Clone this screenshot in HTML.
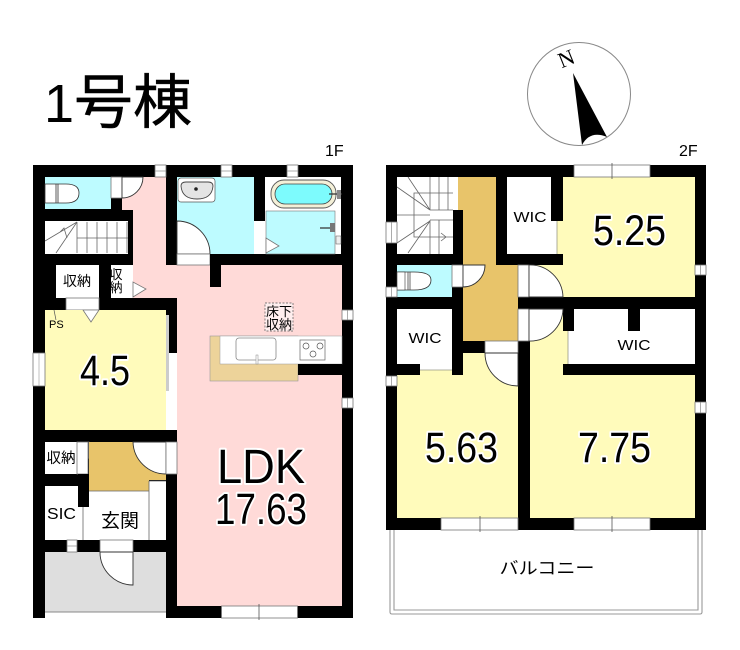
<!DOCTYPE html>
<html lang="ja"><head><meta charset="utf-8"><title>1号棟</title>
<style>html,body{margin:0;padding:0;background:#fff}svg{display:block}
text{font-family:"Liberation Sans","Noto Sans CJK JP",sans-serif;fill:#000}
.h{stroke:#fff;stroke-width:4;paint-order:stroke;stroke-linejoin:round}
.l{stroke:#666;stroke-width:.8;fill:none}
.w{fill:#fff;stroke:#777;stroke-width:.8}
.d{fill:#fff;stroke:#333;stroke-width:.9}
</style></head><body>
<svg width="740" height="650" viewBox="0 0 740 650" xmlns="http://www.w3.org/2000/svg">
<rect width="740" height="650" fill="#fff"/>
<text x="44" y="122" font-size="54">1</text>
<text x="74" y="123" font-size="59" textLength="118" lengthAdjust="spacingAndGlyphs" font-family="Noto Sans CJK JP" stroke="#000" stroke-width=".5">号棟</text>
<text x="325" y="156" font-size="16">1F</text>
<text x="679" y="156" font-size="16">2F</text>

<!-- compass -->
<circle cx="579" cy="94" r="51.5" fill="#fff" stroke="#888" stroke-width="1"/>
<path d="M573 73 L607 137 Q590 130 582 145 Z" fill="#000"/>
<text transform="translate(570,65) rotate(-22)" x="-9" y="0" font-size="22" style="font-family:'Liberation Serif',serif">N</text>

<!-- 1F black base -->
<rect x="33" y="165" width="320" height="453" fill="#000"/>
<rect x="33" y="552" width="133" height="66" fill="#000"/>
<rect x="45" y="612" width="121" height="6" fill="#fff"/>
<rect x="45" y="552" width="121" height="60" fill="#dedede"/>
<line x1="45" y1="612" x2="166" y2="612" stroke="#888"/>

<!-- 1F pink -->
<path d="M122 177H166V265H177V298H133V210H122Z" fill="#ffdad8"/>
<rect x="177" y="265" width="165" height="341" fill="#ffdad8"/>
<rect x="166" y="265" width="11" height="33" fill="#ffdad8"/>
<rect x="133" y="221" width="33" height="77" fill="#ffdad8"/>
<rect x="122" y="177" width="44" height="33" fill="#ffdad8"/>

<!-- toilet 1F -->
<rect x="45" y="177" width="66" height="32" fill="#bdfbff"/>
<rect x="111" y="177" width="11" height="21" class="w" stroke="none"/>
<path d="M122 177H143A21 21 0 0 1 122 198Z" class="d"/>
<path d="M45 184H66Q79 184 79 193Q79 203 66 203H45Z" fill="#fff" stroke="#333" stroke-width=".8"/>
<path d="M56 184V203M58 184V203" stroke="#333" stroke-width=".8"/>

<!-- stairs 1F -->
<rect x="45" y="221" width="83" height="33" fill="#fff"/>
<path class="l" d="M77 222V253M87 222V253M97 222V253M107 222V253M117 222V253M127 222V253M77 238H128M45 241L77 222M56 253L77 222M60 232L64 228L67 238"/>

<!-- storages 1F -->
<rect x="56" y="265" width="43" height="33" fill="#fff"/>
<rect x="111" y="265" width="22" height="33" fill="#fff"/>
<path d="M133 282V297L146 289Z" class="w"/>
<rect x="66" y="298" width="33" height="12" class="w"/>
<text x="77" y="286" font-size="14" text-anchor="middle">収納</text>
<text x="116" y="279" font-size="13" text-anchor="middle">収</text>
<text x="116" y="292" font-size="13" text-anchor="middle">納</text>

<!-- 4.5 room -->
<rect x="45" y="310" width="121" height="120" fill="#fffbbb"/>
<rect x="166" y="353" width="11" height="77" fill="#fff"/>
<rect x="166" y="315" width="3" height="76" fill="#ccc"/>
<path d="M83 310L91 322L99 310Z" class="w"/>
<line x1="54" y1="310" x2="56" y2="320" stroke="#555" stroke-width=".7"/>
<text x="49" y="328" font-size="11">PS</text>
<rect x="33" y="353" width="12" height="33" class="w"/>
<line x1="39" y1="353" x2="39" y2="386" stroke="#999" stroke-width=".6"/>
<text class="h" x="80" y="385" font-size="43" textLength="50" lengthAdjust="spacingAndGlyphs">4.5</text>

<!-- genkan -->
<rect x="45" y="442" width="32" height="32" fill="#fff"/>
<rect x="77" y="442" width="11" height="32" class="w"/>
<path d="M89 442L102 450L89 458Z" class="w"/>
<text x="61" y="463" font-size="14.5" text-anchor="middle">収納</text>
<path d="M89 442H133V491H89Z" fill="#e8c46a"/>
<path d="M133 442H166V480H149V491H133Z" fill="#e8c46a"/>
<path d="M133 442H166V474A33 33 0 0 1 133 442Z" fill="#fff" stroke="#333" stroke-width=".9"/>
<rect x="166" y="442" width="11" height="32" class="w"/>
<rect x="45" y="486" width="38" height="54" fill="#fff"/>
<rect x="78" y="474" width="11" height="33" fill="#000"/>
<rect x="89" y="491" width="60" height="49" fill="#fff"/>
<rect x="83" y="507" width="6" height="33" fill="#fff"/>
<rect x="149" y="481" width="17" height="59" fill="#fff"/>
<path class="l" d="M83 507V540M89 491H149M149 481V540M149 481H166"/>
<text x="47" y="519" font-size="15.5" textLength="29" lengthAdjust="spacingAndGlyphs">SIC</text>
<text x="120" y="527" font-size="19" text-anchor="middle">玄関</text>
<rect x="67" y="540" width="10" height="12" class="w"/>
<line x1="67" y1="546" x2="77" y2="546" stroke="#888" stroke-width=".7"/>
<rect x="100" y="540" width="33" height="12" class="w"/>
<path d="M100 552H133V585A33 33 0 0 1 100 552Z" class="d"/>

<!-- washroom -->
<rect x="177" y="177" width="77" height="77" fill="#bdfbff"/>
<path d="M177 221A33 33 0 0 1 210 254H177Z" class="d"/>
<rect x="177" y="254" width="33" height="11" class="w"/>
<rect x="178" y="178" width="37" height="24" rx="3" fill="#fff" stroke="#555" stroke-width=".7"/>
<path d="M181 186Q181 182 186 182H208Q213 182 213 186Q212 199 197 199Q182 199 181 186Z" fill="#e4e4e4" stroke="#444" stroke-width=".9"/>
<circle cx="196" cy="189" r="1.8" fill="#222"/>

<!-- bath -->
<rect x="265" y="177" width="76" height="77" fill="#fff"/>
<rect x="266" y="211" width="69" height="43" fill="#bdfbff" stroke="#777" stroke-width=".6"/>
<rect x="254" y="221" width="11" height="33" fill="#fff"/>
<path d="M266 238L279 246L266 253Z" class="w"/>
<rect x="271" y="180" width="65" height="28" rx="13" fill="#f4f0d8" stroke="#555" stroke-width=".9"/>
<rect x="275" y="184" width="57" height="20" rx="10" fill="#7dfbfd" stroke="#444" stroke-width=".8"/>
<path d="M329 194H342M320 228H334" stroke="#333" stroke-width="1.2"/>
<rect x="330" y="223" width="5" height="9" fill="#777"/>
<rect x="337" y="190" width="4" height="9" fill="#888"/>
<rect x="336" y="236" width="5" height="8" fill="#eee" stroke="#555" stroke-width=".5"/>

<rect x="210" y="254" width="11" height="33" fill="#000"/>

<!-- kitchen -->
<rect x="210" y="336" width="88" height="45" fill="#edd39a" stroke="#999" stroke-width=".6"/>
<rect x="220" y="336" width="122" height="28" fill="#fff" stroke="#999" stroke-width=".5"/>
<rect x="298" y="364" width="44" height="11" fill="#000"/>
<rect x="236" y="338" width="40" height="22" rx="3" fill="#fff" stroke="#888" stroke-width=".8"/>
<rect x="256" y="355" width="2" height="9" fill="#fff" stroke="#888" stroke-width=".5"/>
<rect x="300" y="340" width="25" height="20" fill="#fff" stroke="#666" stroke-width=".7"/>
<circle cx="306" cy="346" r="3" fill="#fff" stroke="#555" stroke-width=".7"/>
<circle cx="320" cy="346" r="3" fill="#fff" stroke="#555" stroke-width=".7"/>
<circle cx="313" cy="354" r="3" fill="#fff" stroke="#555" stroke-width=".7"/>
<rect x="265" y="303" width="28" height="28" fill="#ffeeee" stroke="#555" stroke-width=".7" stroke-dasharray="2 1.5"/>
<text x="279" y="316" font-size="13" text-anchor="middle">床下</text>
<text x="279" y="329" font-size="13" text-anchor="middle">収納</text>

<!-- LDK text -->
<text class="h" x="217" y="483" font-size="48" textLength="88" lengthAdjust="spacingAndGlyphs">LDK</text>
<text class="h" x="215" y="524" font-size="44" textLength="92" lengthAdjust="spacingAndGlyphs">17.63</text>

<!-- windows 1F -->
<rect x="155" y="165" width="11" height="12" class="w"/><line x1="155" y1="171" x2="166" y2="171" stroke="#888" stroke-width=".7"/>
<rect x="221" y="165" width="11" height="12" class="w"/><line x1="221" y1="171" x2="232" y2="171" stroke="#888" stroke-width=".7"/>
<rect x="287" y="165" width="11" height="12" class="w"/><line x1="287" y1="171" x2="298" y2="171" stroke="#888" stroke-width=".7"/>
<rect x="342" y="310" width="11" height="10" class="w"/><line x1="347.500" y1="310" x2="347.500" y2="320" stroke="#888" stroke-width=".7"/>
<rect x="342" y="398" width="11" height="10" class="w"/><line x1="347.500" y1="398" x2="347.500" y2="408" stroke="#888" stroke-width=".7"/>
<rect x="221.500" y="606" width="76" height="12" class="w"/>
<line x1="259" y1="604" x2="259" y2="620" stroke="#555" stroke-width=".8"/>

<!-- 2F balcony -->
<path d="M390 530V612Q390 614 392 614H700Q702 614 702 612V530" fill="none" stroke="#999" stroke-width="1.1"/>
<path d="M394 530V610H698V530" fill="none" stroke="#999" stroke-width="1.1"/>
<text x="547" y="574" font-size="17" text-anchor="middle" textLength="95" lengthAdjust="spacingAndGlyphs" font-family="Noto Sans CJK JP">バルコニー</text>

<!-- 2F base -->
<rect x="386" y="165" width="320" height="365" fill="#000"/>
<rect x="397" y="177" width="56" height="77" fill="#fff"/>
<rect x="453" y="177" width="5" height="33" fill="#fff"/>
<!-- stairs 2F -->
<path class="l" d="M430 177V210M439 177V210M448 177V210M430 220V254M439 220V254M453 193H414V237H453M430 210H453M430 220H453M397 215H430M397 243L430 221M408 253L430 221M397 187L430 210M408 177L430 210M433 237H446M441 233L446 237L441 241"/>
<!-- orange -->
<path d="M458 177H496V265H518V341H463V210H458Z" fill="#e8c46a"/>
<rect x="463" y="265" width="33" height="76" fill="#e8c46a"/>
<!-- WIC 1 -->
<rect x="507" y="177" width="44" height="77" fill="#fff"/>
<rect x="551" y="221" width="6" height="33" fill="#fff"/>
<text x="530" y="222" font-size="15" text-anchor="middle" textLength="33" lengthAdjust="spacingAndGlyphs">WIC</text>
<!-- 5.25 room -->
<rect x="563" y="177" width="132" height="120" fill="#fffbbb"/>
<rect x="557" y="221" width="6" height="33" fill="#fffbbb"/>
<line x1="557" y1="221" x2="557" y2="254" stroke="#998" stroke-width=".8"/>
<rect x="529" y="265" width="166" height="32" fill="#fffbbb"/>
<text class="h" x="593" y="245" font-size="43" textLength="73" lengthAdjust="spacingAndGlyphs">5.25</text>
<!-- toilet 2F -->
<rect x="397" y="265" width="55" height="32" fill="#bdfbff"/>
<path d="M397 272H414Q431 272 431 280Q431 290 414 290H397Z" fill="#fff" stroke="#333" stroke-width=".8"/>
<rect x="397" y="272" width="8" height="18" fill="#fff" stroke="#333" stroke-width=".6"/>
<path d="M408 272V290M410 272V290" stroke="#444" stroke-width=".8"/>
<rect x="452" y="265" width="11" height="22" class="w"/>
<path d="M463 265H485A22 22 0 0 1 463 287Z" class="d"/>
<!-- 5.63 room -->
<rect x="397" y="370" width="121" height="148" fill="#fffbbb"/>
<rect x="463" y="353" width="55" height="20" fill="#fffbbb"/>
<!-- WIC 2 -->
<rect x="397" y="309" width="55" height="61" fill="#fff"/>
<rect x="397" y="364" width="23" height="11" fill="#000"/>
<line x1="420" y1="370" x2="452" y2="370" stroke="#998" stroke-width=".8"/>
<rect x="452" y="309" width="11" height="66" fill="#000"/>
<text x="425" y="343" font-size="15" text-anchor="middle" textLength="33" lengthAdjust="spacingAndGlyphs">WIC</text>
<rect x="485" y="341" width="33" height="12" class="w"/>
<path d="M485 353H518V386A33 33 0 0 1 485 353Z" class="d"/>
<text class="h" x="425" y="462" font-size="43" textLength="73" lengthAdjust="spacingAndGlyphs">5.63</text>
<!-- 7.75 room -->
<rect x="530" y="309" width="165" height="209" fill="#fffbbb"/>
<rect x="568" y="309" width="127" height="55" fill="#fff"/>
<line x1="568" y1="331" x2="568" y2="364" stroke="#998" stroke-width=".8"/>
<rect x="563" y="309" width="11" height="22" fill="#000"/>
<rect x="628" y="309" width="12" height="22" fill="#000"/>
<rect x="563" y="364" width="132" height="11" fill="#000"/>
<text x="634" y="350" font-size="15" text-anchor="middle" textLength="33" lengthAdjust="spacingAndGlyphs">WIC</text>
<text class="h" x="578" y="462" font-size="43" textLength="73" lengthAdjust="spacingAndGlyphs">7.75</text>
<!-- double doors -->
<rect x="518" y="265" width="11" height="32" class="w"/>
<path d="M529 265A33 33 0 0 1 563 297H529Z" class="d"/>
<rect x="518" y="309" width="11" height="32" class="w"/>
<path d="M529 309H563A33 33 0 0 1 529 341Z" class="d"/>
<!-- windows 2F -->
<rect x="574" y="165" width="76" height="12" class="w"/><line x1="612" y1="163" x2="612" y2="179" stroke="#555" stroke-width=".8"/>
<rect x="695" y="265" width="11" height="10" class="w"/><line x1="700.500" y1="265" x2="700.500" y2="275" stroke="#888" stroke-width=".7"/>
<rect x="695" y="402" width="11" height="11" class="w"/><line x1="700.500" y1="402" x2="700.500" y2="413" stroke="#888" stroke-width=".7"/>
<rect x="386" y="222" width="11" height="21" class="w"/><line x1="391.500" y1="222" x2="391.500" y2="243" stroke="#888" stroke-width=".7"/>
<rect x="386" y="287" width="11" height="10" class="w"/><line x1="391.500" y1="287" x2="391.500" y2="297" stroke="#888" stroke-width=".7"/>
<rect x="386" y="376" width="11" height="10" class="w"/><line x1="391.500" y1="376" x2="391.500" y2="386" stroke="#888" stroke-width=".7"/>
<rect x="441" y="518" width="77" height="12" class="w"/><line x1="480" y1="516" x2="480" y2="532" stroke="#555" stroke-width=".8"/>
<rect x="574" y="518" width="76" height="12" class="w"/><line x1="612" y1="516" x2="612" y2="532" stroke="#555" stroke-width=".8"/>
</svg>
</body></html>
